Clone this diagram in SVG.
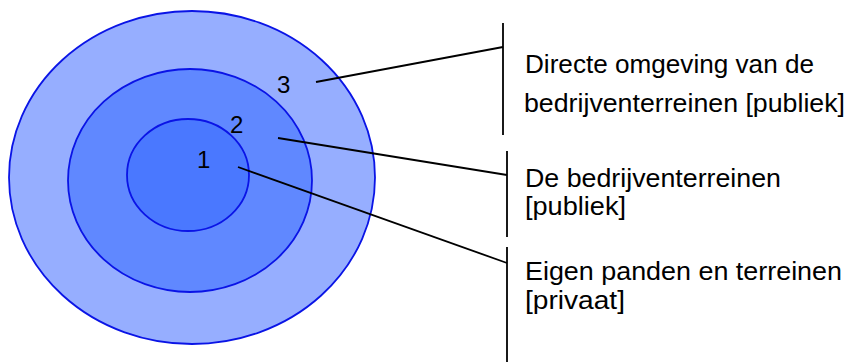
<svg xmlns="http://www.w3.org/2000/svg" width="846" height="363" viewBox="0 0 846 363">
<style>
.ring{stroke:#0a14e6;stroke-width:1.8}
.num{font-family:"Liberation Sans",Arial,sans-serif;font-size:24px;fill:#000}
.lbl{font-family:"Liberation Sans",Arial,sans-serif;font-size:25px;fill:#000}
.conn line{stroke:#000;stroke-width:1.8;fill:none}
</style>
<rect width="846" height="363" fill="#fff"/>
<g id="ring3"><ellipse class="ring" cx="192" cy="177.5" rx="183" ry="166.5" fill="#96aeff"/><text class="num" x="277" y="93">3</text></g>
<g id="ring2"><ellipse class="ring" cx="190" cy="180.5" rx="122" ry="111.5" fill="#6088ff"/><text class="num" x="230" y="133">2</text></g>
<g id="ring1"><ellipse class="ring" cx="188" cy="175" rx="61" ry="56" fill="#4a78ff"/><text class="num" x="197" y="168">1</text></g>
<g class="conn" id="connectors">
<line x1="316" y1="82" x2="503" y2="47"/>
<line x1="503" y1="23" x2="503" y2="135"/>
<line x1="278" y1="138" x2="507" y2="175"/>
<line x1="507" y1="151" x2="507" y2="237"/>
<line x1="238" y1="167" x2="507" y2="263"/>
<line x1="507" y1="247" x2="507" y2="362"/>
</g>
<g id="label3"><text class="lbl" x="525" y="73" textLength="289" lengthAdjust="spacingAndGlyphs">Directe omgeving van de</text><text class="lbl" x="524" y="111.5" textLength="321" lengthAdjust="spacingAndGlyphs">bedrijventerreinen [publiek]</text></g>
<g id="label2"><text class="lbl" x="525" y="186.5" textLength="256" lengthAdjust="spacingAndGlyphs">De bedrijventerreinen</text><text class="lbl" x="525" y="215" textLength="101" lengthAdjust="spacingAndGlyphs">[publiek]</text></g>
<g id="label1"><text class="lbl" x="525" y="280" textLength="317" lengthAdjust="spacingAndGlyphs">Eigen panden en terreinen</text><text class="lbl" x="525" y="309" textLength="100" lengthAdjust="spacingAndGlyphs">[privaat]</text></g>
</svg>
